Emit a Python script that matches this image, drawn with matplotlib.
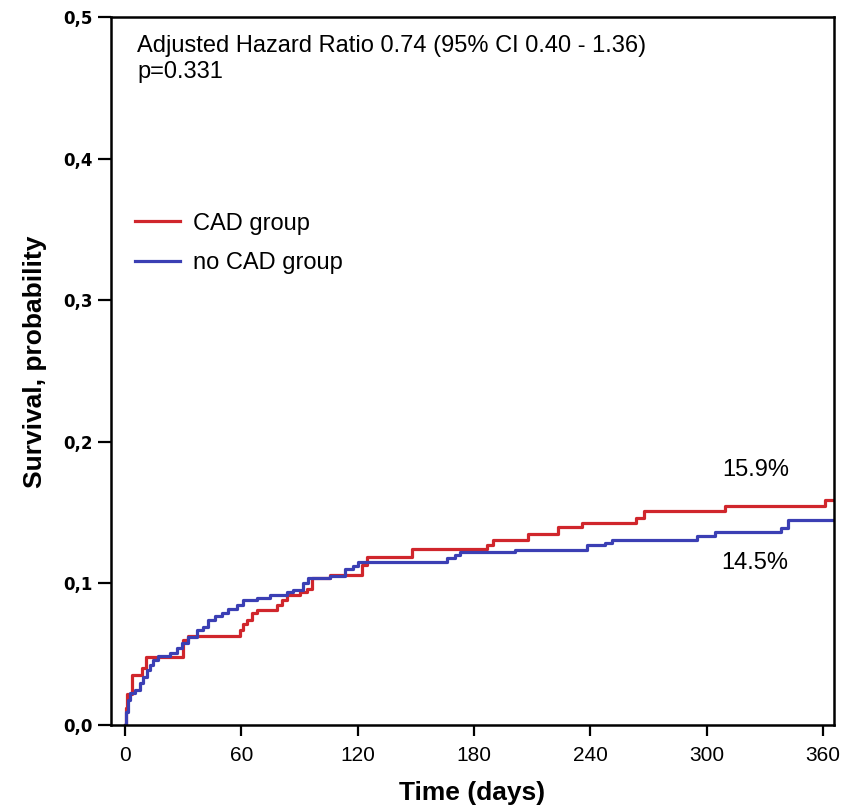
import matplotlib
matplotlib.use("Agg")
import matplotlib.pyplot as plt

# cumulative event probability, step times (days) and values
cad_days = [0, 0.5, 1, 3.5, 9, 11, 30, 32.5, 59.3, 61, 62.7, 65.3, 67.9, 78.2,
            80.8, 83.4, 90.3, 93.7, 96.3, 105.7, 122, 124.6, 147.8, 186.5, 190,
            208, 223.5, 235.5, 263.4, 267.8, 309.6, 361, 365]
cad_vals = [0.0, 0.012, 0.022, 0.035, 0.040, 0.048, 0.060, 0.063, 0.067, 0.071,
            0.074, 0.079, 0.081, 0.085, 0.088, 0.092, 0.094, 0.096, 0.104, 0.106,
            0.113, 0.119, 0.124, 0.127, 0.131, 0.135, 0.140, 0.143, 0.1465, 0.151,
            0.155, 0.159, 0.159]

nocad_days = [0, 0.3, 1.7, 2.6, 5.2, 7.7, 9.5, 11.2, 12.9, 14.6, 17.2, 23.2, 26.6,
              29.2, 32.7, 37, 40.4, 43, 46.4, 49.9, 53.3, 57.6, 61, 67.9, 74.8,
              83.4, 86.8, 92, 94.5, 105.7, 113.5, 117.7, 120.3, 165.9, 170.2,
              172.8, 201, 238, 247.7, 251, 294.8, 304.3, 338.3, 341.8, 365]
nocad_vals = [0.0, 0.0094, 0.0177, 0.0224, 0.0247, 0.0294, 0.0341, 0.0388, 0.0424,
              0.0459, 0.0487, 0.0506, 0.0541, 0.0577, 0.0624, 0.0671, 0.0694,
              0.0742, 0.077, 0.0793, 0.0817, 0.0847, 0.0883, 0.0895, 0.0918,
              0.0942, 0.0953, 0.100, 0.1036, 0.105, 0.110, 0.112, 0.1153, 0.1177,
              0.120, 0.1224, 0.1238, 0.127, 0.1286, 0.131, 0.1334, 0.1365, 0.1393,
              0.145, 0.145]

cad_final = 15.9
nocad_final = 14.5

x_ticks = [0, 60, 120, 180, 240, 300, 360]
y_ticks = [0.0, 0.1, 0.2, 0.3, 0.4, 0.5]
y_ticklabels = ["0,0", "0,1", "0,2", "0,3", "0,4", "0,5"]

red = "#d0262c"
blue = "#3b3fb4"
sans = ["Liberation Sans", "DejaVu Sans"]

fig = plt.figure(figsize=(8.5, 8.08), dpi=100)
ax = fig.add_axes([0.1306, 0.1027, 0.8506, 0.8762])

ax.step(cad_days, cad_vals, where="post", color=red, lw=2.3, label="CAD group")
ax.step(nocad_days, nocad_vals, where="post", color=blue, lw=2.3, label="no CAD group")

ax.set_xlim(-7.2, 365.6)
ax.set_ylim(0, 0.5)
ax.set_xticks(x_ticks)
ax.set_xticklabels([str(t) for t in x_ticks], family=sans, fontsize=15)
ax.set_yticks(y_ticks)
ax.set_yticklabels(y_ticklabels, family="DejaVu Sans", fontweight="bold", fontsize=12)

for s in ax.spines.values():
    s.set_linewidth(1.8)
ax.tick_params(axis="x", direction="out", length=8, width=1.6, pad=7, top=False)
ax.tick_params(axis="y", direction="out", length=9.5, width=1.6, pad=4, right=False)

ax.set_xlabel("Time (days)", family=sans, fontweight="bold", fontsize=19, va="center")
ax.xaxis.set_label_coords(0.5, -0.096)
ax.set_ylabel("Survival, probability", family=sans, fontweight="bold", fontsize=19,
              va="center", ha="center")
ax.yaxis.set_label_coords(-0.105, 0.513)

ax.text(0.036, 0.974, "Adjusted Hazard Ratio 0.74 (95% CI 0.40 - 1.36)\np=0.331",
        transform=ax.transAxes, ha="left", va="top", family=sans, fontsize=17,
        linespacing=1.2)

ax.text(325.4, 0.180, f"{cad_final}%", ha="center", va="center", family=sans, fontsize=17)
ax.text(324.5, 0.1144, f"{nocad_final}%", ha="center", va="center", family=sans, fontsize=17)

ax.legend(loc="center left", bbox_to_anchor=(0.033, 0.680), frameon=False,
          prop={"family": sans, "size": 17}, handlelength=1.9, handletextpad=0.55,
          labelspacing=0.75, borderpad=0, borderaxespad=0)

fig.savefig("out.png", dpi=100)
